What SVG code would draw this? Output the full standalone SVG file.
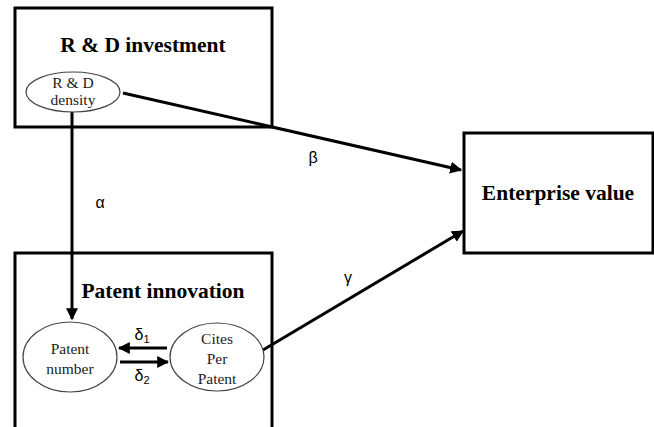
<svg xmlns="http://www.w3.org/2000/svg" width="654" height="427" viewBox="0 0 654 427">
  <style>
    .box { fill: #fff; stroke: #000; stroke-width: 3; }
    .oval { fill: #fff; stroke: #444; stroke-width: 1.2; }
    .title { font-family: "Liberation Serif", "Times New Roman", serif; font-weight: bold; font-size: 21.5px; fill: #000; text-anchor: middle; }
    .small { font-family: "Liberation Serif", "Times New Roman", serif; font-size: 15.5px; fill: #222; text-anchor: middle; }
    .greek { font-family: "Liberation Sans", Arial, sans-serif; font-size: 16px; fill: #000; text-anchor: middle; }
    .sub { font-size: 11px; }
    .edge { fill: none; stroke: #000; stroke-width: 3; }
  </style>
  <defs>
    <marker id="arrow" viewBox="0 0 10 10" refX="9" refY="5" markerWidth="4" markerHeight="4" orient="auto" markerUnits="strokeWidth">
      <path d="M0,0 L10,5 L0,10 z" fill="#000"/>
    </marker>
  </defs>

  <rect width="654" height="427" fill="#fff"/>

  <g id="rd-investment">
    <rect class="box" x="15" y="8" width="257" height="119"/>
    <text class="title" x="143" y="52">R &amp; D investment</text>
  </g>

  <g id="patent-innovation">
    <rect class="box" x="15" y="253" width="257" height="190"/>
    <text class="title" x="163" y="298">Patent innovation</text>
  </g>

  <g id="enterprise-value">
    <rect class="box" x="464" y="133" width="189" height="120"/>
    <text class="title" x="558" y="200">Enterprise value</text>
  </g>

  <g id="connectors">
    <line class="edge" x1="123" y1="93" x2="461" y2="170" marker-end="url(#arrow)"/>
    <line class="edge" x1="72" y1="111" x2="72" y2="319" marker-end="url(#arrow)"/>
    <line class="edge" x1="263" y1="350" x2="463" y2="231" marker-end="url(#arrow)"/>
    <line class="edge" x1="167" y1="348" x2="119" y2="348" marker-end="url(#arrow)"/>
    <line class="edge" x1="120" y1="362" x2="168" y2="362" marker-end="url(#arrow)"/>
    <text class="greek" x="313" y="163">β</text>
    <text class="greek" x="100" y="208">α</text>
    <text class="greek" x="348" y="283">γ</text>
    <text class="greek" x="142" y="340">δ<tspan class="sub" dy="3">1</tspan></text>
    <text class="greek" x="142" y="381">δ<tspan class="sub" dy="3">2</tspan></text>
  </g>

  <g id="rd-density">
    <ellipse class="oval" cx="73" cy="92" rx="47" ry="20"/>
    <text class="small" x="73" y="88">R &amp; D</text>
    <text class="small" x="73" y="105">density</text>
  </g>

  <g id="patent-number">
    <ellipse class="oval" cx="70" cy="357" rx="47" ry="35"/>
    <text class="small" x="70" y="354">Patent</text>
    <text class="small" x="70" y="374">number</text>
  </g>

  <g id="cites-per-patent">
    <ellipse class="oval" cx="217" cy="357" rx="47" ry="34"/>
    <text class="small" x="217" y="344">Cites</text>
    <text class="small" x="217" y="364">Per</text>
    <text class="small" x="217" y="384">Patent</text>
  </g>
</svg>
